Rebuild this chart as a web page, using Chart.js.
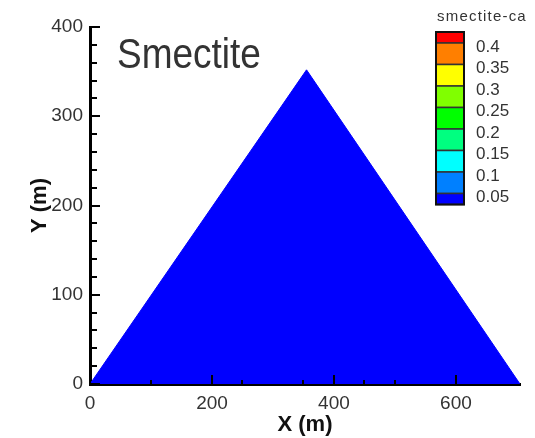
<!DOCTYPE html>
<html>
<head>
<meta charset="utf-8">
<script src="https://cdn.jsdelivr.net/npm/chart.js@4"></script>
<style>
  html, body { margin: 0; padding: 0; background: #fff; }
  #wrap { width: 535px; height: 438px; }
</style>
</head>
<body>
<div id="wrap"><canvas id="chart" width="535" height="438"></canvas></div>
<script>
// triangle outline of the domain
const domainX = [0, 355, 705];
const domainY = [0, 352, 0];

// axes
const xTicks = [0, 200, 400, 600];
const xMinorTicks = [100, 250, 350, 450, 500];
const yTicks = [0, 100, 200, 300, 400];
const yMinorStep = 20;

// colour bar (smectite-ca)
const legendTitle = 'smectite-ca';
const legendLevels = [0.4, 0.35, 0.3, 0.25, 0.2, 0.15, 0.1, 0.05];
const legendColors = ['#ff0000', '#ff7f00', '#ffff00', '#80ff00', '#00ff00',
                      '#00ff80', '#00ffff', '#0080ff', '#0000ff'];

const chartTitle = 'Smectite';
const xTitle = 'X (m)';
const yTitle = 'Y (m)';

const textColor = '#333';

// tick marks inside the plot + titles + colour bar
const decorPlugin = {
  id: 'decor',
  afterDatasetsDraw(chart) {
    const ctx = chart.ctx;
    const xs = chart.scales.x, ys = chart.scales.y;
    const area = chart.chartArea;
    ctx.save();
    ctx.strokeStyle = '#000';
    ctx.lineWidth = 2;
    // y ticks
    for (let v = yTicks[0]; v <= yTicks[yTicks.length - 1]; v += yMinorStep) {
      const y = Math.round(ys.getPixelForValue(v));
      const len = yTicks.includes(v) ? 10 : 7;
      ctx.beginPath();
      ctx.moveTo(area.left, y);
      ctx.lineTo(area.left + len, y);
      ctx.stroke();
    }
    // x ticks
    xTicks.concat(xMinorTicks).forEach(v => {
      const x = Math.round(xs.getPixelForValue(v));
      const len = xTicks.includes(v) ? 9 : 4;
      ctx.beginPath();
      ctx.moveTo(x, area.bottom);
      ctx.lineTo(x, area.bottom - len);
      ctx.stroke();
    });

    // axis titles
    ctx.fillStyle = '#111';
    ctx.font = 'bold 22px "Liberation Sans", Arial, sans-serif';
    ctx.textAlign = 'center';
    ctx.textBaseline = 'middle';
    ctx.fillText(xTitle, (area.left + area.right) / 2, 425);
    ctx.save();
    ctx.translate(40, (area.top + area.bottom) / 2);
    ctx.rotate(-Math.PI / 2);
    ctx.fillText(yTitle, 0, 0);
    ctx.restore();

    // big title
    ctx.save();
    ctx.fillStyle = textColor;
    ctx.font = '43px "Liberation Sans", Arial, sans-serif';
    ctx.textAlign = 'left';
    ctx.textBaseline = 'alphabetic';
    ctx.translate(117, 68);
    ctx.scale(0.86, 1);
    ctx.fillText(chartTitle, 0, 0);
    ctx.restore();

    // colour bar
    const barX = 436, barW = 28, barTop = 32, step = 21.5, topH = 11, botH = 11;
    ctx.fillStyle = textColor;
    ctx.font = '15px "Liberation Sans", Arial, sans-serif';
    ctx.letterSpacing = '1.2px';
    ctx.textAlign = 'left';
    ctx.textBaseline = 'alphabetic';
    ctx.fillText(legendTitle, 437, 21);
    ctx.letterSpacing = '0px';

    let y = barTop;
    legendColors.forEach((c, i) => {
      let h = step;
      if (i === 0) h = topH;
      if (i === legendColors.length - 1) h = botH;
      ctx.fillStyle = c;
      ctx.fillRect(barX, y, barW, h);
      ctx.strokeStyle = '#333';
      ctx.lineWidth = 1.5;
      ctx.strokeRect(barX, y, barW, h);
      y += h;
    });
    ctx.strokeStyle = '#111';
    ctx.lineWidth = 2;
    ctx.strokeRect(barX, barTop, barW, y - barTop);

    ctx.fillStyle = textColor;
    ctx.font = '17px "Liberation Sans", Arial, sans-serif';
    ctx.textBaseline = 'middle';
    legendLevels.forEach((lv, i) => {
      const yy = barTop + topH + i * step + 4;
      ctx.fillText(String(lv), 476, yy);
    });
    ctx.restore();
  }
};

const ctx = document.getElementById('chart').getContext('2d');
const chart = new Chart(ctx, {
  type: 'scatter',
  data: {
    datasets: [{
      data: domainX.map((x, i) => ({ x: x, y: domainY[i] })),
      showLine: true,
      fill: 'origin',
      backgroundColor: '#0000ff',
      borderColor: '#0000ff',
      borderWidth: 1,
      pointRadius: 0,
      tension: 0
    }]
  },
  options: {
    responsive: false,
    animation: false,
    devicePixelRatio: 1,
    layout: { padding: { left: 0, right: 15, top: 27, bottom: 0 } },
    plugins: { legend: { display: false }, tooltip: { enabled: false } },
    scales: {
      x: {
        type: 'linear',
        min: 0,
        max: 705,
        afterBuildTicks: axis => { axis.ticks = xTicks.map(v => ({ value: v })); },
        afterFit: axis => { axis.height = 54; },
        grid: { display: true, drawOnChartArea: false, drawTicks: false },
        border: { display: true, color: '#000', width: 3 },
        ticks: {
          padding: 8,
          maxRotation: 0,
          autoSkip: false,
          color: textColor,
          font: { family: '"Liberation Sans", Arial, sans-serif', size: 19 }
        }
      },
      y: {
        type: 'linear',
        min: 0,
        max: 400,
        afterBuildTicks: axis => { axis.ticks = yTicks.map(v => ({ value: v })); },
        afterFit: axis => { axis.width = 90; },
        grid: { display: true, drawOnChartArea: false, drawTicks: false },
        border: { display: true, color: '#000', width: 3 },
        ticks: {
          padding: 7,
          autoSkip: false,
          color: textColor,
          font: { family: '"Liberation Sans", Arial, sans-serif', size: 19 }
        }
      }
    }
  },
  plugins: [decorPlugin]
});
</script>
</body>
</html>
